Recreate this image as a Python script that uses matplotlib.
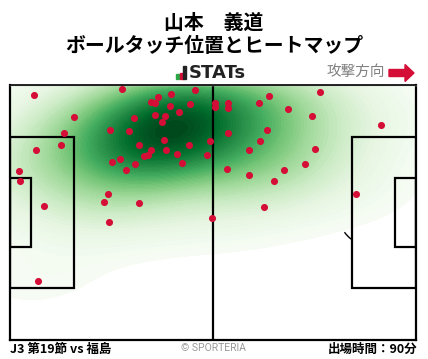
import numpy as np
import matplotlib
matplotlib.use("Agg")
import matplotlib.pyplot as plt
from matplotlib.patches import Rectangle, Arc, FancyArrow

plt.rcParams['font.family'] = ['Noto Sans CJK JP', 'DejaVu Sans']

# ball touches, pitch metres (x from own goal line, y from top touchline)
touch_x = [6.3, 29.0, 38.4, 41.7, 47.9, 36.5, 37.6, 41.5, 46.6, 16.6, 32.1, 37.6, 40.2, 43.8,
           39.4, 25.8, 30.9, 14.0, 39.9, 51.7, 13.3, 6.8, 33.4, 46.4, 36.5, 40.4, 43.3, 51.0,
           28.4, 34.7, 35.8, 26.5, 32.4, 44.6, 30.1, 2.4, 2.7, 25.4, 24.4, 33.4, 8.9,
           53.0, 53.0, 56.5, 56.5, 67.1, 64.5, 80.2, 72.0, 78.2, 95.9, 56.5, 66.5, 64.7,
           61.9, 79.0, 56.2, 61.9, 70.9, 76.4, 68.3, 89.4, 65.8, 25.7, 7.3, 52.2]
touch_y = [2.7, 1.1, 3.3, 2.5, 1.4, 4.5, 4.9, 5.7, 5.1, 8.6, 8.9, 8.1, 8.3, 7.3,
           9.9, 12.0, 12.3, 12.9, 14.7, 14.9, 16.1, 17.4, 16.1, 16.1, 17.4, 17.4, 18.5, 18.7,
           19.7, 19.0, 18.7, 20.6, 21.1, 20.9, 22.7, 23.0, 25.7, 29.1, 31.3, 31.5, 32.3,
           4.9, 5.8, 4.9, 6.2, 3.0, 4.9, 1.9, 6.5, 8.3, 10.7, 12.9, 12.1, 15.0,
           17.4, 17.1, 22.5, 24.1, 22.7, 21.1, 25.7, 29.1, 32.6, 36.6, 52.3, 35.5]

title1 = "山本　義道"
title2 = "ボールタッチ位置とヒートマップ"
match_label = "J3 第19節 vs 福島"
minutes_label = "出場時間：90分"

fig = plt.figure(figsize=(4.28, 3.59), dpi=100)
ax = fig.add_axes([10/428, 19/359, 406/428, 255/359])

# gaussian kde (scott bandwidth, widened)
pts = np.array([touch_x, touch_y])
n = pts.shape[1]
bw = 1.4
cov = np.cov(pts) * n ** (-2/6) * bw**2
inv = np.linalg.inv(cov)
gx, gy = np.meshgrid(np.linspace(0, 105, 300), np.linspace(0, 68, 200))
dx = gx[..., None] - pts[0]
dy = gy[..., None] - pts[1]
q = inv[0, 0]*dx*dx + 2*inv[0, 1]*dx*dy + inv[1, 1]*dy*dy
dens = np.exp(-0.5*q).sum(axis=-1)
dens = dens / dens.max()

levels = np.linspace(0.035, 1.0, 60)
ax.contourf(gx, gy, dens, levels=list(levels) + [1.01], cmap="Greens")

ax.scatter(touch_x, touch_y, s=26, color="#d40e36", zorder=5, linewidths=0)

# pitch lines
lc = "black"
lw = 1.6
ax.plot([52.5, 52.5], [0, 68], color=lc, lw=lw)
ax.add_patch(Rectangle((0, 13.85), 16.5, 40.3, fill=False, ec=lc, lw=lw))
ax.add_patch(Rectangle((0, 24.85), 5.5, 18.3, fill=False, ec=lc, lw=lw))
ax.add_patch(Rectangle((88.5, 13.85), 16.5, 40.3, fill=False, ec=lc, lw=lw))
ax.add_patch(Rectangle((99.5, 24.85), 5.5, 18.3, fill=False, ec=lc, lw=lw))
ax.add_patch(Arc((94, 34), 18.3, 18.3, theta1=129, theta2=145, color=lc, lw=1.0))

ax.set_xlim(0, 105)
ax.set_ylim(68, 0)
ax.set_xticks([])
ax.set_yticks([])
for side in ["left", "right", "bottom"]:
    ax.spines[side].set_linewidth(1.6)
ax.spines["top"].set_color("#cccccc")
ax.spines["top"].set_linewidth(1.0)

# header
fig.text(0.5, 1 - 22/359, title1, ha="center", va="center", fontsize=14.3, fontweight="bold")
fig.text(0.5, 1 - 46/359, title2, ha="center", va="center", fontsize=14.3, fontweight="bold")
fig.add_artist(plt.Line2D([10/428, 416/428], [1 - 84.5/359, 1 - 84.5/359], color="black", lw=1.2))

# STATs logo
for x0, h, c in [(176, 5, "#2aa845"), (179.5, 6, "#d40e36"), (183, 12, "#222222")]:
    fig.add_artist(Rectangle((x0/428, 1 - 78.5/359), 3/428, h/359, color=c, transform=fig.transFigure))
fig.text(189/428, 1 - 72.5/359, "STATs", ha="left", va="center", fontsize=13,
         fontweight="bold", family="DejaVu Sans", color="#222222")

fig.text(385/428, 1 - 72/359, "攻撃方向", ha="right", va="center", fontsize=10.5, color="#808080")
fig.add_artist(FancyArrow(389/428, 1 - 73/359, 16/428, 0, width=7/359, head_width=17/359,
                          head_length=9/428, length_includes_head=False, color="#d40e36",
                          transform=fig.transFigure))

# footer
fig.text(10/428, 1 - 349/359, match_label, ha="left", va="center", fontsize=9, fontweight="bold")
fig.text(213/428, 1 - 348/359, "© SPORTERIA", ha="center", va="center", fontsize=7.5,
         color="#999999", family=["Roboto", "DejaVu Sans"])
fig.text(417/428, 1 - 349/359, minutes_label, ha="right", va="center", fontsize=9, fontweight="bold")

fig.savefig("out.png", dpi=100)
